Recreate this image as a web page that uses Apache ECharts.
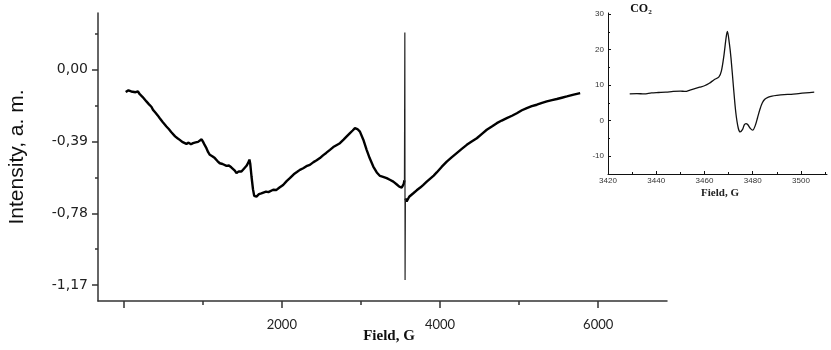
<!DOCTYPE html>
<html><head><meta charset="utf-8">
<script src="https://cdn.jsdelivr.net/npm/echarts@6/dist/echarts.min.js"></script>
<style>html,body{margin:0;padding:0;background:#fff}#c{width:831px;height:350px}</style>
</head><body><div id="c"></div>
<script>
// Main EPR spectrum (Field, G vs Intensity, a. m.)
const fieldG = [25,60,95,118,150,180,203,240,265,287,320,350,371,400,430,456,490,515,540,570,600,624,650,680,709,740,765,793,820,850,877,910,940,962,985,1004,1025,1046,1068,1089,1120,1152,1185,1215,1250,1275,1300,1330,1360,1384,1405,1426,1455,1489,1520,1553,1575,1590,1600,1616,1635,1650,1679,1710,1740,1763,1800,1830,1848,1890,1932,1970,2016,2060,2101,2150,2190,2228,2270,2310,2354,2400,2440,2481,2520,2560,2608,2650,2690,2734,2780,2820,2861,2895,2924,2955,2987,3030,3072,3110,3156,3200,3241,3280,3325,3365,3409,3450,3485,3515,3540,3550,3555,3558,3562,3578,3610,3662,3705,3750,3789,3832,3880,3920,3958,4020,4085,4150,4211,4275,4338,4400,4465,4530,4591,4655,4718,4780,4844,4910,4971,5035,5097,5160,5224,5290,5350,5415,5477,5540,5604,5690,5772];
const intensity = [-0.121,-0.112,-0.118,-0.108,-0.122,-0.118,-0.133,-0.148,-0.152,-0.172,-0.188,-0.201,-0.218,-0.232,-0.248,-0.263,-0.282,-0.292,-0.308,-0.322,-0.338,-0.348,-0.362,-0.372,-0.381,-0.392,-0.402,-0.403,-0.396,-0.405,-0.399,-0.395,-0.392,-0.385,-0.378,-0.392,-0.41,-0.426,-0.448,-0.462,-0.47,-0.48,-0.496,-0.508,-0.512,-0.518,-0.522,-0.52,-0.53,-0.535,-0.548,-0.562,-0.552,-0.553,-0.538,-0.522,-0.505,-0.488,-0.51,-0.58,-0.65,-0.685,-0.689,-0.676,-0.672,-0.668,-0.662,-0.665,-0.658,-0.652,-0.653,-0.64,-0.626,-0.605,-0.589,-0.568,-0.556,-0.544,-0.535,-0.524,-0.517,-0.502,-0.492,-0.48,-0.465,-0.452,-0.435,-0.42,-0.41,-0.399,-0.38,-0.362,-0.344,-0.33,-0.317,-0.322,-0.336,-0.38,-0.435,-0.48,-0.526,-0.558,-0.577,-0.582,-0.589,-0.598,-0.608,-0.622,-0.635,-0.64,-0.622,-0.6,0.203,-1.1425,-0.70,-0.716,-0.69,-0.671,-0.655,-0.64,-0.625,-0.608,-0.59,-0.575,-0.558,-0.528,-0.499,-0.475,-0.453,-0.43,-0.408,-0.39,-0.372,-0.348,-0.326,-0.308,-0.29,-0.276,-0.263,-0.25,-0.236,-0.22,-0.208,-0.198,-0.19,-0.18,-0.172,-0.165,-0.159,-0.152,-0.145,-0.135,-0.127];
const spikeRange = [3550, 3562]; // narrow resonance line drawn thin
const yMajorTicks = [0, -0.39, -0.78, -1.17];
const yMinorTicks = [0.195, -0.195, -0.585, -0.975];
const xMajorTicks = [0, 2000, 4000, 6000];
const xLabelTicks = [2000, 4000, 6000];
const xMinorTicks = [1000, 3000, 5000];

// Inset: CO2 signal
const insetField = [3429,3432,3435,3438,3441,3444,3447,3450,3452,3454,3456,3458,3460,3462,3464,3466,3467,3468,3469,3469.5,3470.3,3471,3472,3473,3474,3474.8,3475.8,3476.5,3477.2,3478,3479,3480,3481,3482,3483,3484,3485,3486.5,3488,3490,3493,3496,3499,3502,3505.5];
const insetSignal = [7.5,7.6,7.5,7.8,7.9,8.0,8.2,8.3,8.2,8.6,9.0,9.4,9.8,10.5,11.5,12.3,13.9,18,23.5,25.1,21.8,17.6,9.6,2.2,-2.1,-3.2,-2.5,-1.2,-0.85,-1.2,-2.2,-2.7,-1.5,0.8,3.2,5.0,6.0,6.6,6.9,7.1,7.3,7.4,7.6,7.8,8.0];
const insetYTicks = [-10, 0, 10, 20, 30];
const insetYMinor = [-5, 5, 15, 25];
const insetXTicks = [3420, 3440, 3460, 3480, 3500];
const insetXMinor = [3430, 3450, 3470, 3490, 3510];

const mainPts = fieldG.map((x, i) => [x, (x > spikeRange[0] && x < spikeRange[1]) ? null : intensity[i]]);
const spikePts = fieldG.map((x, i) => [x, intensity[i]]).filter(p => p[0] >= spikeRange[0] && p[0] <= spikeRange[1]);
const insetPts = insetField.map((x, i) => [x, insetSignal[i]]);

const axisCol = '#333';
const chart = echarts.init(document.getElementById('c'), null, {renderer: 'canvas'});
const xMin = -325, xMax = 6870, yMin = -1.2566, yMax = 0.3085;
const ixMin = 3420, ixMax = 3510.8, iyMin = -15.06, iyMax = 30.3;
const plain = v => String(v);

chart.setOption({
  animation: false,
  backgroundColor: '#fff',
  grid: [
    {left: 98, top: 13, width: 569, height: 288, containLabel: false, outerBoundsMode: 'none'},
    {left: 608, top: 13, width: 219, height: 161, containLabel: false, outerBoundsMode: 'none'}
  ],
  xAxis: [
    {gridIndex: 0, type: 'value', min: xMin, max: xMax,
     axisLine: {show: true, onZero: false, lineStyle: {color: axisCol, width: 1.5}},
     axisTick: {show: true, inside: false, length: 7, customValues: xMajorTicks, lineStyle: {color: axisCol, width: 1.5}},
     axisLabel: {show: true, customValues: xLabelTicks, margin: 17, color: '#222', fontSize: 13, fontFamily: 'Lato', formatter: plain},
     splitLine: {show: false}},
    {gridIndex: 0, type: 'value', min: xMin, max: xMax, position: 'bottom',
     axisLine: {show: false, onZero: false},
     axisTick: {show: true, inside: false, length: 4, customValues: xMinorTicks, lineStyle: {color: axisCol, width: 1.5}},
     axisLabel: {show: false}, splitLine: {show: false}},
    {gridIndex: 1, type: 'value', min: ixMin, max: ixMax,
     axisLine: {show: true, onZero: false, lineStyle: {color: '#111', width: 1}},
     axisTick: {show: true, inside: true, length: 3, customValues: insetXTicks, lineStyle: {color: '#111'}},
     axisLabel: {show: true, customValues: insetXTicks, margin: 3, color: '#333', fontSize: 8, fontFamily: 'Liberation Sans', formatter: plain},
     splitLine: {show: false}},
    {gridIndex: 1, type: 'value', min: ixMin, max: ixMax, position: 'bottom',
     axisLine: {show: false, onZero: false},
     axisTick: {show: true, inside: true, length: 2, customValues: insetXMinor, lineStyle: {color: '#111'}},
     axisLabel: {show: false}, splitLine: {show: false}}
  ],
  yAxis: [
    {gridIndex: 0, type: 'value', min: yMin, max: yMax,
     name: 'Intensity, a. m.', nameLocation: 'middle', nameGap: 70, nameRotate: 90,
     nameTextStyle: {fontSize: 21, color: '#111', fontFamily: 'Liberation Sans'},
     axisLine: {show: true, onZero: false, lineStyle: {color: axisCol, width: 1.5}},
     axisTick: {show: true, inside: false, length: 6, customValues: yMajorTicks, lineStyle: {color: axisCol, width: 1.5}},
     axisLabel: {show: true, customValues: yMajorTicks, margin: 10, color: '#222', fontSize: 14, fontFamily: 'DejaVu Sans',
       formatter: v => v.toFixed(2).replace('.', ',')},
     splitLine: {show: false}},
    {gridIndex: 0, type: 'value', min: yMin, max: yMax, position: 'left',
     axisLine: {show: false, onZero: false},
     axisTick: {show: true, inside: false, length: 3, customValues: yMinorTicks, lineStyle: {color: axisCol, width: 1.5}},
     axisLabel: {show: false}, splitLine: {show: false}},
    {gridIndex: 1, type: 'value', min: iyMin, max: iyMax,
     axisLine: {show: true, onZero: false, lineStyle: {color: '#111', width: 1}},
     axisTick: {show: true, inside: true, length: 3, customValues: insetYTicks, lineStyle: {color: '#111'}},
     axisLabel: {show: true, customValues: insetYTicks, margin: 4, color: '#333', fontSize: 8, fontFamily: 'Liberation Sans', formatter: plain},
     splitLine: {show: false}},
    {gridIndex: 1, type: 'value', min: iyMin, max: iyMax, position: 'left',
     axisLine: {show: false, onZero: false},
     axisTick: {show: true, inside: true, length: 2, customValues: insetYMinor, lineStyle: {color: '#111'}},
     axisLabel: {show: false}, splitLine: {show: false}}
  ],
  series: [
    {type: 'line', xAxisIndex: 0, yAxisIndex: 0, data: mainPts, showSymbol: false, symbol: 'none', connectNulls: false,
     lineStyle: {color: '#000', width: 2.4}},
    {type: 'line', xAxisIndex: 0, yAxisIndex: 0, data: spikePts, showSymbol: false, symbol: 'none',
     lineStyle: {color: '#222', width: 1.2}},
    {type: 'line', xAxisIndex: 2, yAxisIndex: 2, data: insetPts, showSymbol: false, symbol: 'none', smooth: 0.3,
     lineStyle: {color: '#111', width: 1.3}}
  ],
  graphic: [
    {type: 'text', x: 389, y: 336, style: {text: 'Field, G', fill: '#111', font: 'bold 15px "Liberation Serif"', textAlign: 'center', textVerticalAlign: 'middle'}},
    {type: 'text', x: 641, y: 9, style: {text: 'CO₂', fill: '#111', font: 'bold 12px "Liberation Serif"', textAlign: 'center', textVerticalAlign: 'middle'}},
    {type: 'text', x: 720, y: 193, style: {text: 'Field, G', fill: '#222', font: 'bold 11px "Liberation Serif"', textAlign: 'center', textVerticalAlign: 'middle'}}
  ]
});
</script>
</body></html>
